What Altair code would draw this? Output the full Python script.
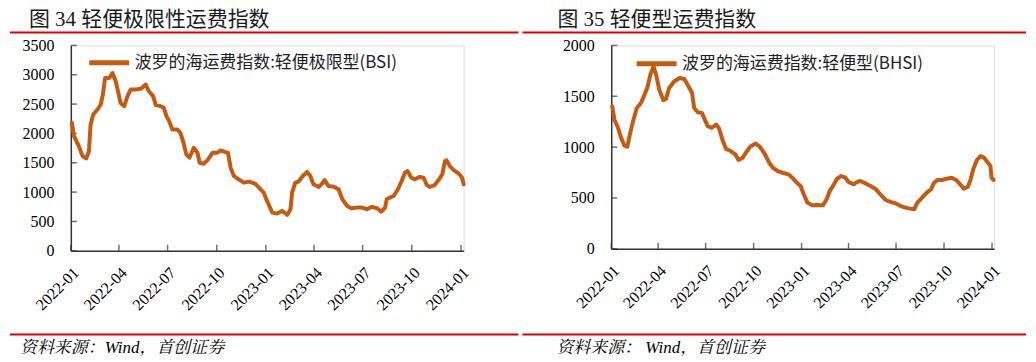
import altair as alt
import pandas as pd

# ---------------- data ----------------
# days since 2022-01-01
bsi_days = [2, 6, 15, 22, 29, 34, 37, 42, 50, 56,
            60, 64, 72, 78, 84, 89, 93, 100, 106, 112,
            121, 131, 140, 146, 154, 159, 168, 174, 179, 184,
            190, 199, 205, 210, 216, 222, 230, 237, 241, 249,
            257, 265, 274, 280, 289, 294, 299, 305, 314, 324,
            333, 345, 352, 361, 367, 370, 377, 386, 395, 405,
            411, 414, 420, 426, 434, 442, 448, 454, 464, 470,
            475, 482, 492, 501, 508, 517, 525, 535, 545, 554,
            563, 573, 581, 588, 591, 597, 604, 612, 619, 625,
            630, 637, 644, 652, 660, 666, 672, 681, 689, 695,
            700, 703, 709, 717, 726, 732, 735]
bsi_values = [2181, 1955, 1784, 1614, 1575, 1699, 2153, 2323, 2408, 2493,
              2663, 2945, 2945, 3030, 2890, 2690, 2520, 2465, 2635, 2748,
              2748, 2760, 2833, 2720, 2635, 2482, 2465, 2436, 2295, 2210,
              2068, 2068, 2011, 1870, 1643, 1586, 1756, 1671, 1501, 1484,
              1558, 1671, 1671, 1711, 1682, 1671, 1416, 1275, 1218, 1161,
              1178, 1144, 1076, 991, 850, 793, 651, 634, 680, 612,
              708, 991, 1161, 1178, 1275, 1343, 1275, 1133, 1088, 1144,
              1206, 1104, 1093, 1048, 878, 765, 725, 736, 736, 708,
              748, 725, 668, 736, 878, 906, 934, 1048, 1189, 1330,
              1359, 1245, 1218, 1257, 1245, 1121, 1088, 1121, 1218, 1303,
              1529, 1541, 1444, 1371, 1313, 1245, 1133]

bhsi_days = [2, 6, 13, 19, 25, 31, 35, 41, 49, 57,
             64, 70, 75, 81, 86, 92, 100, 105, 111, 121,
             131, 140, 148, 155, 159, 166, 174, 178, 185, 193,
             201, 207, 213, 220, 229, 238, 244, 252, 258, 266,
             277, 285, 293, 303, 310, 319, 328, 340, 347, 357,
             363, 369, 376, 385, 395, 406, 413, 419, 427, 433,
             441, 449, 455, 465, 471, 478, 487, 497, 506, 516,
             526, 535, 545, 554, 564, 573, 581, 587, 596, 605,
             613, 619, 625, 634, 643, 653, 661, 669, 676, 684,
             689, 694, 701, 708, 715, 721, 727, 729, 733]
bhsi_values = [1402, 1271, 1190, 1091, 1016, 1003, 1108, 1238, 1385, 1434,
               1516, 1598, 1713, 1794, 1713, 1566, 1461, 1474, 1581, 1647,
               1679, 1670, 1598, 1532, 1385, 1343, 1336, 1287, 1206, 1190,
               1222, 1180, 1075, 983, 961, 928, 873, 895, 944, 1003,
               1036, 1003, 944, 846, 797, 765, 748, 732, 699, 644,
               618, 536, 454, 428, 431, 428, 487, 569, 634, 689,
               716, 699, 657, 634, 657, 667, 644, 618, 591, 536,
               480, 461, 448, 422, 405, 395, 389, 454, 503, 552,
               585, 650, 677, 677, 689, 699, 677, 634, 591, 611,
               683, 781, 873, 912, 895, 853, 814, 699, 677]

x_tick_dates = ["2022-01-01", "2022-04-01", "2022-07-01", "2022-10-01",
                "2023-01-01", "2023-04-01", "2023-07-01", "2023-10-01",
                "2024-01-01"]
bsi_y_ticks = [0, 500, 1000, 1500, 2000, 2500, 3000, 3500]
bhsi_y_ticks = [0, 500, 1000, 1500, 2000]

titles = ["图 34 轻便极限性运费指数", "图 35 轻便型运费指数"]
series_names = ["波罗的海运费指数:轻便极限型(BSI)", "波罗的海运费指数:轻便型(BHSI)"]
sources = ["资料来源：Wind，首创证券", "资料来源： Wind，首创证券"]

# ---------------- styling ----------------
ORANGE = "#C55A11"
RED = "#DC0000"
AXIS = "#333333"
SERIF = "Liberation Serif"
CJK = "Noto Sans CJK SC"
TITLE_FONT = '"Liberation Serif", "Noto Sans CJK SC"'
SRC_FONT = '"Liberation Serif", "Noto Serif CJK SC", "Noto Sans CJK SC"'

BASE = pd.Timestamp("2022-01-01")


def to_dates(days):
    return (BASE + pd.to_timedelta(days, unit="D")).strftime("%Y-%m-%d").tolist()


def dt(s):
    t = pd.Timestamp(s)
    return alt.DateTime(year=t.year, month=t.month, date=t.day, utc=True)


def panel(days, values, name, title, source, yticks, ymax, end_date,
          width, height, legend_x, legend_y, title_x, src_x, rule_x1, rule_x2):
    df = pd.DataFrame({"date": to_dates(days), "value": values, "series": name})
    x = alt.X("date:T",
              scale=alt.Scale(type="utc", domain=[dt("2022-01-01"), dt(end_date)]),
              axis=alt.Axis(values=[dt(d) for d in x_tick_dates],
                            labelExpr="utcFormat(datum.value, '%Y-%m')",
                            labelAngle=-45, labelAlign="right", labelBaseline="middle",
                            labelPadding=19, labelOffset=5, labelFont=SERIF, labelFontSize=16,
                            labelColor="#000000", labelOverlap=False, labelFlush=False,
                            ticks=False, grid=False, title=None,
                            domainColor=AXIS, domainWidth=1.5))
    y = alt.Y("value:Q",
              scale=alt.Scale(domain=[0, ymax], nice=False, zero=True),
              axis=alt.Axis(values=yticks, format="d", labelPadding=17, labelFont=SERIF,
                            labelFontSize=16, labelColor="#000000",
                            ticks=False, grid=False, title=None,
                            domainColor=AXIS, domainWidth=1.5))

    line = alt.Chart(df).mark_line(strokeWidth=4, strokeJoin="round", strokeCap="round").encode(
        x=x, y=y,
        color=alt.Color("series:N",
                        scale=alt.Scale(domain=[name], range=[ORANGE]),
                        legend=alt.Legend(orient="none", legendX=legend_x, legendY=legend_y,
                                          title=None, symbolType="stroke", symbolSize=1600,
                                          symbolStrokeWidth=5, labelFont=CJK, labelFontSize=17,
                                          labelColor="#222222", labelLimit=0, labelOffset=3,
                                          padding=0)))

    xt = alt.Chart(pd.DataFrame({"date": x_tick_dates})).mark_tick(
        orient="vertical", size=6, thickness=1.5, color=AXIS).encode(
        x=x, y=alt.value(height - 3))
    yt = alt.Chart(pd.DataFrame({"value": yticks})).mark_tick(
        orient="horizontal", size=6, thickness=1.5, color=AXIS).encode(
        y=y, x=alt.value(3))

    one = pd.DataFrame({"t": [title], "s": [source]})
    ttl = alt.Chart(one).mark_text(align="left", baseline="top", font=TITLE_FONT,
                                   fontSize=21, color="#1a1a1a").encode(
        text="t:N", x=alt.value(title_x), y=alt.value(-36))
    src = alt.Chart(one).mark_text(align="left", baseline="middle", font=SRC_FONT,
                                   fontSize=17, fontStyle="italic", color="#000000").encode(
        text="s:N", x=alt.value(src_x), y=alt.value(303))
    top_rule = alt.Chart(one).mark_rule(color=RED, strokeWidth=2).encode(
        x=alt.value(rule_x1), x2=alt.value(rule_x2), y=alt.value(-13))
    bot_rule = alt.Chart(one).mark_rule(color=RED, strokeWidth=2).encode(
        x=alt.value(rule_x1), x2=alt.value(rule_x2), y=alt.value(290))

    return alt.layer(top_rule, bot_rule, ttl, src, xt, yt, line).properties(
        width=width, height=height)


left = panel(bsi_days, bsi_values, series_names[0], titles[0], sources[0],
             bsi_y_ticks, 3500, "2024-01-06", 394, 206,
             legend_x=16, legend_y=-5, title_x=-42, src_x=-51, rule_x1=-61, rule_x2=449)
right = panel(bhsi_days, bhsi_values, series_names[1], titles[1], sources[1],
              bhsi_y_ticks, 2000, "2024-01-05", 384, 204,
              legend_x=23, legend_y=-4, title_x=-54, src_x=-55, rule_x1=-89, rule_x2=416)

chart = alt.hconcat(left, right, spacing=0).resolve_scale(
    x="independent", y="independent", color="independent").properties(
    padding=0).configure_view(strokeWidth=0).configure(background="white")

chart.save("out.html", embed_options={"renderer": "svg", "actions": False})
